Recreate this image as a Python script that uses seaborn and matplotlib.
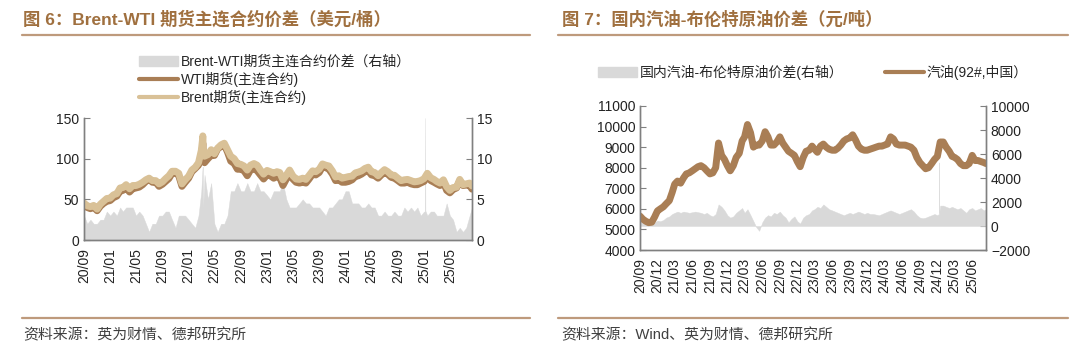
import pandas as pd
import seaborn as sns
import matplotlib.pyplot as plt
import matplotlib.dates as mdates
from matplotlib.patches import Patch
from matplotlib.lines import Line2D

# ---------------- data: figure 6 (semi-monthly samples, USD/bbl) ----------------
months6 = pd.date_range("2020-09-01", "2025-07-01", freq="MS")
dates6 = sorted(list(months6) + list(months6 + pd.Timedelta(days=15))) + \
    [pd.Timestamp("2025-08-01"), pd.Timestamp("2025-08-12")]

wti = [42.5, 40, 38.5, 40.5, 36, 41.5, 45, 47.5,
       48.5, 52, 54, 60, 61, 64, 59, 63, 64, 65, 68, 72, 75, 71, 71, 66,
       68.5, 72, 75.5, 82, 83, 79, 66, 71,
       76, 84, 88, 92, 104, 95, 100, 104, 104, 112, 115, 117, 108, 97, 94, 87,
       87, 85, 79, 86, 88, 85, 80, 75,
       80, 79, 76, 78, 77, 67, 75, 82, 75, 71, 70, 71, 70, 75, 81, 80,
       83, 90, 89, 87, 81, 73, 74, 71,
       71, 72, 74, 78, 79, 81, 84, 85, 80, 79, 76, 80, 83, 81, 77, 76,
       73, 70, 70, 71, 69, 68, 68, 70,
       72, 79, 73, 71, 69, 67, 71, 61, 58, 62, 64, 73, 67, 67.5, 67, 62.5]

brent = [45.5, 42, 41, 42.5, 38, 44, 47.5, 51,
         51.5, 55.5, 57, 64, 64.5, 68, 63, 67, 67, 68.5, 71, 74, 76, 73, 73, 69,
         71.5, 75.5, 79, 84.5, 84.5, 82, 69, 74,
         78.5, 86, 89.5, 95, 110, 103, 105, 111, 106, 113, 117, 119, 111, 103, 100, 94,
         93, 91, 86, 92, 94, 92, 86, 81,
         85.5, 84, 82, 84, 83, 74, 80, 86, 79, 75, 74.5, 76, 74.5, 79.5, 85, 84,
         87, 93.5, 92, 91, 85, 77.5, 79, 76,
         77, 78, 78.5, 82.5, 83.5, 85, 88, 89.5, 84, 83, 79, 83, 86.5, 84, 80, 79.5,
         76, 73, 74, 74.5, 73, 71.5, 72, 73,
         75.5, 82, 76.5, 74.5, 72, 70, 74, 65.5, 61, 64.5, 65, 74.5, 68, 69, 70, 66.5]

# extra daily points: March 2022 price spike
extra6_dates = [pd.Timestamp("2022-03-07"), pd.Timestamp("2022-03-08"), pd.Timestamp("2022-03-10")]
extra6_wti = [115, 119, 108]
extra6_brent = [124, 128, 112]

spike6_date = [pd.Timestamp("2025-01-05"), pd.Timestamp("2025-01-06"), pd.Timestamp("2025-01-07")]
spike6_value = [3.5, 15.0, 3.6]

# ---------------- data: figure 7 (semi-monthly samples, CNY/t) ----------------
months7 = pd.date_range("2020-09-01", "2025-07-01", freq="MS")
dates7 = sorted(list(months7) + list(months7 + pd.Timedelta(days=15))) + \
    [pd.Timestamp("2025-08-01"), pd.Timestamp("2025-08-12")]

gasoline = [5650, 5500, 5400, 5330, 5350, 5600, 5900, 6000,
            6100, 6250, 6400, 6800, 7200, 7350, 7250, 7500, 7700, 7750, 7850, 7950,
            8050, 8100, 8000, 7850, 7700, 7750, 8000, 9200, 8600, 8400, 8100, 7850,
            8100, 8500, 8700, 9300, 9500, 10100, 9700, 9000, 9100, 9100, 9300, 9750,
            9500, 9100, 9100, 9250, 9500, 9200, 9000, 8800, 8700, 8600, 8300, 8050,
            8500, 8800, 8850, 9050, 8900, 8750, 9050, 9150, 9000, 8900, 8850, 8850,
            8950, 9100, 9300, 9400, 9450, 9600, 9350, 9050, 8900, 8850, 8850, 8900,
            8950, 9000, 9050, 9050, 9100, 9150, 9500, 9400, 9150, 9100, 9100, 9100,
            9050, 9000, 8850, 8500, 8250, 8100, 7950, 8000, 8200, 8400, 8550, 9250,
            9250, 9000, 8800, 8550, 8500, 8400, 8200, 8100, 8100, 8200, 8600, 8350,
            8350, 8300, 8250, 8200]

gas_spread = [600, 400, 300, 250, 350, 300, 450, 400,
              500, 700, 800, 1000, 1100, 1200, 1100, 1200, 1150, 1100, 1150, 1200,
              1150, 1100, 1000, 1100, 900, 800, 1000, 1800, 1600, 1300, 900, 700,
              800, 1100, 1300, 1500, 1100, 1400, 900, 400, -100, -400, 300, 700,
              900, 800, 1100, 1000, 1200, 900, 700, 300, 600, 800, 400, 200,
              700, 900, 1000, 1300, 1400, 1600, 1500, 1800, 1600, 1400, 1300, 1200,
              1100, 1000, 900, 1000, 1100, 1000, 1100, 1200, 1100, 1000, 1100, 1000,
              1000, 950, 900, 1000, 1100, 1200, 1300, 1200, 1100, 1000, 1100, 1200,
              1300, 1400, 1200, 900, 700, 650, 700, 800, 900, 1000, 900, 1700,
              1700, 1600, 1500, 1600, 1500, 1400, 1500, 1300, 1100, 1400, 1500, 1300,
              1400, 1500, 1300, 1400]

spike7_date = [pd.Timestamp("2024-12-09"), pd.Timestamp("2024-12-10"), pd.Timestamp("2024-12-11")]
spike7_value = [1000, 5300, 1100]

ticks6 = pd.date_range("2020-09-01", "2025-05-01", freq="4MS")
ticks7 = pd.date_range("2020-09-01", "2025-06-01", freq="3MS")

# ---------------- style ----------------
sns.set_style("white")
plt.rcParams["font.family"] = ["Liberation Sans", "Noto Sans CJK SC", "DejaVu Sans"]

BROWN = "#A97E55"
TAN = "#D9C197"
GREY = "#D9D9D9"
TITLE_C = "#A0703F"
RULE_C = "#BE9A7C"

df6 = pd.concat([pd.DataFrame({"date": dates6, "WTI": wti, "Brent": brent}),
                 pd.DataFrame({"date": extra6_dates, "WTI": extra6_wti, "Brent": extra6_brent})])
df6 = df6.sort_values("date")
df6["spread"] = df6["Brent"] - df6["WTI"]
sp6 = pd.concat([df6[["date", "spread"]],
                 pd.DataFrame({"date": spike6_date, "spread": spike6_value})]).sort_values("date")

df7 = pd.DataFrame({"date": dates7, "gasoline": gasoline, "spread": gas_spread})
sp7 = pd.concat([df7[["date", "spread"]],
                 pd.DataFrame({"date": spike7_date, "spread": spike7_value})]).sort_values("date")

fig = plt.figure(figsize=(10.8, 3.53), dpi=100)


def style_axes(ax, ax2):
    for a in (ax, ax2):
        a.spines["top"].set_visible(False)
        for s in ("left", "right", "bottom"):
            a.spines[s].set_color("#808080")
            a.spines[s].set_linewidth(1.0)
        a.tick_params(direction="in", length=4, color="#808080", labelsize=10, labelcolor="#222222")
        a.set_xlabel("")
        a.set_ylabel("")
    ax.set_zorder(ax2.get_zorder() + 1)
    ax.patch.set_visible(False)
    ax.tick_params(axis="x", labelrotation=90, labelsize=10, pad=6)


# ---------------- figure 6 ----------------
ax = fig.add_axes([84 / 1080, 1 - 240 / 353, 388 / 1080, 122 / 353])
ax2 = ax.twinx()
ax2.fill_between(sp6["date"], 0, sp6["spread"], color=GREY, lw=0.3, ec=GREY)
sns.lineplot(data=df6, x="date", y="WTI", ax=ax, color=BROWN, lw=5)
sns.lineplot(data=df6, x="date", y="Brent", ax=ax, color=TAN, lw=5)
ax.set_ylim(0, 150)
ax.set_yticks([0, 50, 100, 150])
ax2.set_ylim(0, 15)
ax2.set_yticks([0, 5, 10, 15])
ax.set_xlim(pd.Timestamp("2020-09-01"), pd.Timestamp("2025-08-12"))
ax.set_xticks(ticks6)
ax.xaxis.set_major_formatter(mdates.DateFormatter("%y/%m"))
style_axes(ax, ax2)

fig.legend(handles=[Patch(color=GREY), Line2D([], [], color=BROWN, lw=3), Line2D([], [], color=TAN, lw=3)],
           labels=["Brent-WTI期货主连合约价差（右轴）", "WTI期货(主连合约)", "Brent期货(主连合约)"],
           loc="upper left", bbox_to_anchor=(139 / 1080, 1 - 55 / 353), frameon=False,
           fontsize=10, handlelength=2.8, handletextpad=0.2, labelspacing=0.2,
           borderpad=0, borderaxespad=0)

# ---------------- figure 7 ----------------
bx = fig.add_axes([640 / 1080, 1 - 250 / 353, 346 / 1080, 144 / 353])
bx2 = bx.twinx()
bx2.fill_between(sp7["date"], 0, sp7["spread"], color=GREY, lw=0.3, ec=GREY)
sns.lineplot(data=df7, x="date", y="gasoline", ax=bx, color=BROWN, lw=5)
bx.set_ylim(4000, 11000)
bx.set_yticks(range(4000, 11001, 1000))
bx2.set_ylim(-2000, 10000)
bx2.set_yticks(range(-2000, 10001, 2000))
bx.set_xlim(pd.Timestamp("2020-09-01"), pd.Timestamp("2025-08-12"))
bx.set_xticks(ticks7)
bx.xaxis.set_major_formatter(mdates.DateFormatter("%y/%m"))
style_axes(bx, bx2)

fig.legend(handles=[Patch(color=GREY), Line2D([], [], color=BROWN, lw=3)],
           labels=["国内汽油-布伦特原油价差(右轴）", "汽油(92#,中国）"],
           loc="upper left", bbox_to_anchor=(598 / 1080, 1 - 65 / 353), frameon=False, ncol=2,
           fontsize=10, handlelength=2.8, handletextpad=0.2, columnspacing=3.0,
           borderpad=0, borderaxespad=0)

# ---------------- titles, rules and sources ----------------
fig.text(23 / 1080, 1 - 19 / 353, "图 6：Brent-WTI 期货主连合约价差（美元/桶）", fontsize=12.5,
         fontweight="bold", color=TITLE_C, va="center", ha="left")
fig.text(562 / 1080, 1 - 19 / 353, "图 7：国内汽油-布伦特原油价差（元/吨）", fontsize=12.5,
         fontweight="bold", color=TITLE_C, va="center", ha="left")
for x0, x1 in ((22, 530), (558, 1068)):
    fig.add_artist(Line2D([x0 / 1080, x1 / 1080], [1 - 35 / 353] * 2, color=RULE_C, lw=1.6))
    fig.add_artist(Line2D([x0 / 1080, x1 / 1080], [1 - 318 / 353] * 2, color=RULE_C, lw=1.6))
fig.text(23 / 1080, 1 - 335 / 353, "资料来源：英为财情、德邦研究所", fontsize=10.7, color="#404040",
         va="center", ha="left")
fig.text(561 / 1080, 1 - 335 / 353, "资料来源：Wind、英为财情、德邦研究所", fontsize=10.7, color="#404040",
         va="center", ha="left")

fig.savefig("out.png", dpi=100)
